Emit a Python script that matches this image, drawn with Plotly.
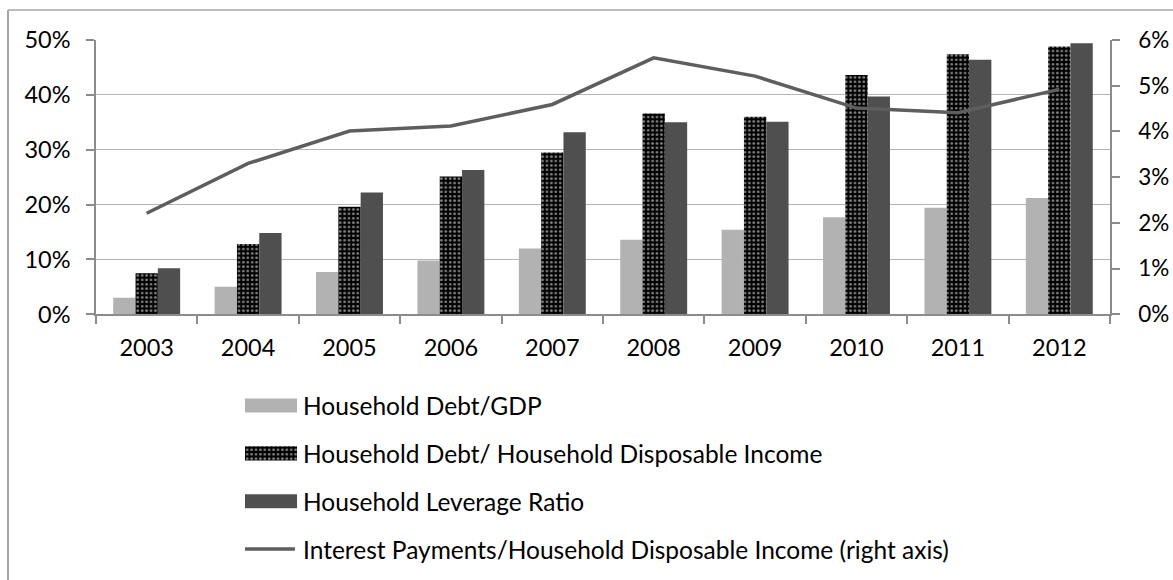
import plotly.graph_objects as go

# ---- data ----
years = ["2003", "2004", "2005", "2006", "2007", "2008", "2009", "2010", "2011", "2012"]
debt_gdp = [0.030, 0.050, 0.077, 0.098, 0.120, 0.136, 0.154, 0.177, 0.194, 0.212]
debt_income = [0.075, 0.128, 0.196, 0.251, 0.295, 0.366, 0.360, 0.436, 0.474, 0.488]
leverage = [0.084, 0.148, 0.222, 0.263, 0.332, 0.350, 0.351, 0.397, 0.464, 0.494]
interest_income = [0.0221, 0.0330, 0.0401, 0.0412, 0.0459, 0.0561, 0.0521, 0.0451, 0.0441, 0.0492]

legend_names = [
    "Household Debt/GDP",
    "Household Debt/ Household Disposable Income",
    "Household Leverage Ratio",
    "Interest Payments/Household Disposable Income (right axis)",
]

FONT = "Lato"
TICK_SIZE = 23.5
LEGEND_SIZE = 24.5
LIGHT = "#b2b2b2"
DARK = "#4f4f4f"
LINE = "#5e5e5e"
GRID = "#b5b5b5"
AXIS = "#8c8c8c"

W, H = 1173, 580
ML, MR, MT, MB = 96, 63, 40, 0
PW = W - ML - MR
PH = H - MT - MB


def px_x(p):
    return (p - ML) / PW


def px_y(p):
    return (H - MB - p) / PH


dot_pattern = dict(shape=".", fgcolor="#ffffff", bgcolor="#000000", size=4.4, solidity=0.32)

fig = go.Figure()

fig.add_trace(go.Bar(x=years, y=debt_gdp, name=legend_names[0],
                     marker=dict(color=LIGHT, line=dict(width=0)),
                     xaxis="x", yaxis="y"))
fig.add_trace(go.Bar(x=years, y=debt_income, name=legend_names[1],
                     marker=dict(color="#000000", line=dict(width=0), pattern=dot_pattern),
                     xaxis="x", yaxis="y"))
fig.add_trace(go.Bar(x=years, y=leverage, name=legend_names[2],
                     marker=dict(color=DARK, line=dict(width=0)),
                     xaxis="x", yaxis="y"))
fig.add_trace(go.Scatter(x=years, y=interest_income, name=legend_names[3],
                         mode="lines", line=dict(color=LINE, width=3.5),
                         xaxis="x", yaxis="y2"))

# ---- legend swatches drawn on a small auxiliary axis pair ----
fig.add_trace(go.Bar(x=[1], y=[0], orientation="h", width=0.295,
                     marker=dict(color=LIGHT, line=dict(width=0)),
                     xaxis="x3", yaxis="y3", hoverinfo="skip"))
fig.add_trace(go.Bar(x=[1], y=[1], orientation="h", width=0.295,
                     marker=dict(color="#000000", line=dict(width=0), pattern=dot_pattern),
                     xaxis="x3", yaxis="y3", hoverinfo="skip"))
fig.add_trace(go.Bar(x=[1], y=[2], orientation="h", width=0.295,
                     marker=dict(color=DARK, line=dict(width=0)),
                     xaxis="x3", yaxis="y3", hoverinfo="skip"))
fig.add_trace(go.Scatter(x=[-0.04, 0.96], y=[3, 3], mode="lines",
                         line=dict(color=LINE, width=3.5),
                         xaxis="x3", yaxis="y3", hoverinfo="skip"))

annotations = []
for i, name in enumerate(legend_names):
    annotations.append(dict(text=name, x=px_x(301), y=i, xref="paper", yref="y3",
                            xanchor="left", yanchor="middle", showarrow=False,
                            font=dict(family=FONT, size=LEGEND_SIZE, color="#000000")))

# chart frame lines
fx0, fy0 = px_x(8), px_y(10)
shapes = [
    dict(type="line", xref="paper", yref="paper", x0=fx0, x1=px_x(W), y0=fy0, y1=fy0,
         line=dict(color="#a6a6a6", width=1.5)),
    dict(type="line", xref="paper", yref="paper", x0=fx0, x1=fx0, y0=fy0, y1=px_y(H),
         line=dict(color="#a6a6a6", width=2)),
]

legend_top, legend_bottom = 381.6, 573.0

fig.update_layout(
    width=W, height=H,
    margin=dict(l=ML, r=MR, t=MT, b=MB, autoexpand=False),
    paper_bgcolor="white", plot_bgcolor="white",
    barmode="group", bargap=0.34, bargroupgap=0,
    showlegend=False,
    font=dict(family=FONT, size=TICK_SIZE, color="#000000"),
    xaxis=dict(type="category", domain=[0, 1], anchor="y", automargin=False,
               showline=True, linecolor=AXIS, linewidth=1.5,
               ticks="outside", tickson="boundaries", ticklen=8, tickcolor=AXIS, tickwidth=1.5,
               showgrid=False, tickfont=dict(family=FONT, size=TICK_SIZE), ticklabelstandoff=12),
    yaxis=dict(domain=[px_y(314.3), 1], range=[0, 0.5], dtick=0.1, tickformat=".0%",
               automargin=False,
               showline=True, linecolor=AXIS, linewidth=1.5,
               ticks="outside", ticklen=8, tickcolor=AXIS, tickwidth=1.5,
               showgrid=True, gridcolor=GRID, gridwidth=1.3, zeroline=False,
               tickfont=dict(family=FONT, size=TICK_SIZE), ticklabelstandoff=11),
    yaxis2=dict(overlaying="y", side="right", anchor="x", range=[0, 0.06], dtick=0.01,
                automargin=False,
                tickformat=".0%", showline=True, linecolor=AXIS, linewidth=1.5,
                ticks="outside", ticklen=8, tickcolor=AXIS, tickwidth=1.5,
                showgrid=False, zeroline=False,
                tickfont=dict(family=FONT, size=22.5), ticklabelstandoff=14),
    xaxis3=dict(domain=[px_x(245), px_x(297)], range=[0, 1], anchor="y3",
                visible=False, fixedrange=True, automargin=False),
    yaxis3=dict(domain=[px_y(legend_bottom), px_y(legend_top)], range=[3.5, -0.5],
                anchor="x3", visible=False, fixedrange=True, automargin=False),
    annotations=annotations,
    shapes=shapes,
)

fig.write_html("out.html")
